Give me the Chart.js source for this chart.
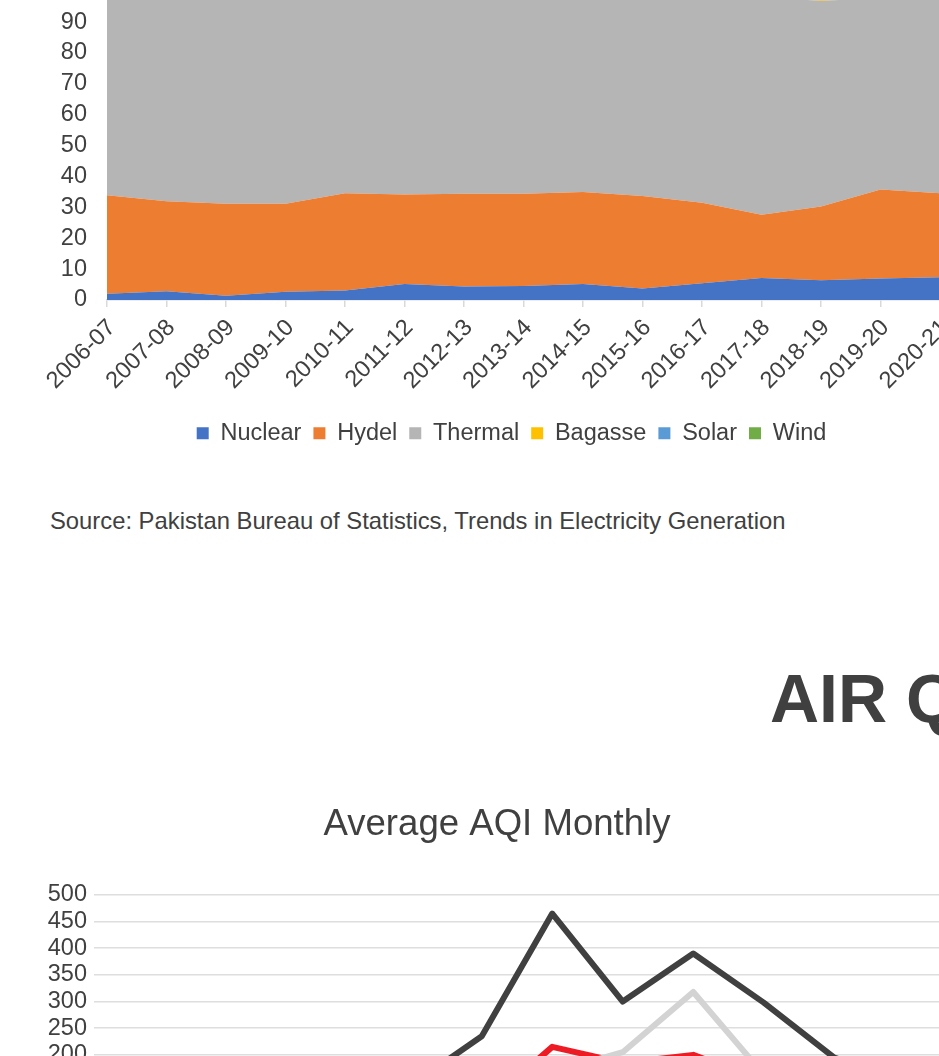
<!DOCTYPE html>
<html>
<head>
<meta charset="utf-8">
<title>Electricity generation and AQI</title>
<script src="https://cdn.jsdelivr.net/npm/chart.js@4.4.1/dist/chart.umd.min.js"></script>
<style>
  html, body { margin: 0; padding: 0; background: #fff; }
  #page { position: relative; width: 939px; height: 1056px; overflow: hidden;
          font-family: "Liberation Sans", Arial, sans-serif; color: #404040; }
  #box1 { position: absolute; left: 0; top: -40px; width: 1023px; height: 495px; }
  #source { position: absolute; left: 50px; top: 509px; font-size: 23.8px; line-height: 1; white-space: nowrap; }
  #heading { position: absolute; left: 770px; top: 664px; font-size: 68px; line-height: 1;
             font-weight: bold; white-space: nowrap; }
  #box2 { position: absolute; left: 0; top: 760px; width: 994px; height: 510px; }
</style>
</head>
<body>
<div id="page">
  <div id="box1"><canvas id="genChart"></canvas></div>
  <div id="source">Source: Pakistan Bureau of Statistics, Trends in Electricity Generation</div>
  <div id="heading">AIR QUALITY</div>
  <div id="box2"><canvas id="aqiChart"></canvas></div>
</div>
<script>
// --- datos: generación eléctrica (% del total) ---
const years = ['2006-07', '2007-08', '2008-09', '2009-10', '2010-11', '2011-12', '2012-13', '2013-14',
               '2014-15', '2015-16', '2016-17', '2017-18', '2018-19', '2019-20', '2020-21'];
const nuclear = [2.0, 2.8, 1.4, 2.7, 3.1, 5.2, 4.4, 4.5, 5.2, 3.7, 5.4, 7.1, 6.4, 7.0, 7.4];
const hydel   = [31.9, 29.2, 29.8, 28.5, 31.5, 29.0, 30.0, 29.9, 29.8, 30.0, 26.1, 20.5, 23.9, 28.8, 27.2];
const thermal = [66.1, 68.0, 68.8, 68.8, 65.4, 65.8, 65.5, 65.3, 64.3, 65.1, 66.8, 70.4, 66.6, 61.9, 63.3];
const bagasse = [0, 0, 0, 0, 0, 0, 0, 0, 0.2, 0.4, 0.5, 0.6, 1.2, 0.8, 0.7];
const solar   = [0, 0, 0, 0, 0, 0, 0, 0, 0.1, 0.2, 0.4, 0.5, 0.8, 0.6, 0.5];
const wind    = [0, 0, 0, 0, 0, 0, 0.1, 0.3, 0.4, 0.6, 0.8, 0.9, 1.1, 0.9, 0.9];
const genTicks = [0, 10, 20, 30, 40, 50, 60, 70, 80, 90, 100];

// --- datos: AQI mensual ---
const months = ['Jun', 'Jul', 'Aug', 'Sep', 'Oct', 'Nov', 'Dec', 'Jan', 'Feb', 'Mar', 'Apr', 'May'];
const aqiDark  = [95, 100, 110, 120, 143, 235, 465, 300, 390, 298, 195, 150];
const aqiLight = [60, 65, 70, 80, 100, 130, 167, 205, 318, 163, 120, 90];
const aqiRed   = [50, 55, 60, 70, 85, 100, 215, 185, 200, 150, 110, 80];
const aqiTicks = [0, 50, 100, 150, 200, 250, 300, 350, 400, 450, 500];

const FONT = '"Liberation Sans", Arial, sans-serif';
const INK = '#404040';
Chart.defaults.font.family = FONT;
Chart.defaults.color = INK;

function area(label, data, color, fill) {
    return { label, data, backgroundColor: color, borderColor: color, borderWidth: 0,
             pointRadius: 0, fill, tension: 0 };
}

// --- GRÁFICO 1: áreas apiladas ---
// el lienzo es más ancho que la página para que la leyenda quede centrada como en el original
new Chart(document.getElementById('genChart'), {
    type: 'line',
    data: {
        labels: years,
        datasets: [
            area('Nuclear', nuclear, '#4472C4', 'origin'),
            area('Hydel', hydel, '#ED7D31', '-1'),
            area('Thermal', thermal, '#B5B5B5', '-1'),
            area('Bagasse', bagasse, '#FFC000', '-1'),
            area('Solar', solar, '#5B9BD5', '-1'),
            area('Wind', wind, '#70AD47', '-1')
        ]
    },
    options: {
        responsive: true,
        maintainAspectRatio: false,
        animation: false,
        layout: { padding: { top: 31.2, left: 0, right: 0, bottom: 0 } },
        scales: {
            x: {
                grid: { drawOnChartArea: false, drawTicks: true, tickLength: 7, color: '#d9d9d9', lineWidth: 1.5 },
                border: { color: '#d9d9d9', width: 1.5 },
                ticks: { maxRotation: 45, minRotation: 45, autoSkip: false, padding: 7, labelOffset: 5,
                         font: { size: 23.5 }, color: INK },
                afterFit: s => { s.height = 109.5; s.paddingLeft = 0; s.paddingRight = 83; }
            },
            y: {
                stacked: true, min: 0, max: 100,
                grid: { display: false, drawTicks: false },
                border: { display: false },
                afterBuildTicks: s => { s.ticks = genTicks.map(v => ({ value: v })); },
                ticks: { padding: 20, autoSkip: false, font: { size: 23.5 }, color: INK },
                afterFit: s => { s.width = 107; s.paddingTop = 0; s.paddingBottom = 0; }
            }
        },
        plugins: {
            legend: {
                position: 'bottom',
                labels: { boxWidth: 12, boxHeight: 12, padding: 12, font: { size: 23.5 }, color: INK }
            },
            tooltip: { enabled: false }
        }
    }
});

function line(label, data, color) {
    return { label, data, borderColor: color, backgroundColor: color, borderWidth: 6,
             pointRadius: 0, fill: false, tension: 0, borderJoinStyle: 'round', borderCapStyle: 'round' };
}

// --- GRÁFICO 2: líneas AQI ---
new Chart(document.getElementById('aqiChart'), {
    type: 'line',
    data: {
        labels: months,
        datasets: [
            line('Lahore', aqiDark, '#404040'),
            line('Islamabad', aqiLight, '#D3D3D3'),
            line('Karachi', aqiRed, '#ED1C24')
        ]
    },
    options: {
        responsive: true,
        maintainAspectRatio: false,
        animation: false,
        layout: { padding: 0 },
        scales: {
            x: {
                offset: true,
                grid: { display: false },
                border: { color: '#d9d9d9' },
                ticks: { font: { size: 23.5 }, color: INK },
                afterFit: s => { s.height = 60; s.paddingLeft = 0; s.paddingRight = 54; }
            },
            y: {
                min: 0, max: 500,
                grid: { color: '#dedede', lineWidth: 1.5, drawTicks: false },
                border: { display: false },
                afterBuildTicks: s => { s.ticks = aqiTicks.map(v => ({ value: v })); },
                ticks: { padding: 7, autoSkip: false, font: { size: 23.5 }, color: INK },
                afterFit: s => { s.width = 94; s.paddingTop = 0; s.paddingBottom = 0; }
            }
        },
        plugins: {
            title: {
                display: true,
                text: 'Average AQI Monthly',
                font: { size: 36.6, weight: 'normal' },
                color: INK,
                padding: { top: 43, bottom: 48 }
            },
            legend: {
                position: 'bottom',
                labels: { boxWidth: 12, boxHeight: 12, padding: 15, font: { size: 23.5 }, color: INK }
            },
            tooltip: { enabled: false }
        }
    }
});
</script>
</body>
</html>
